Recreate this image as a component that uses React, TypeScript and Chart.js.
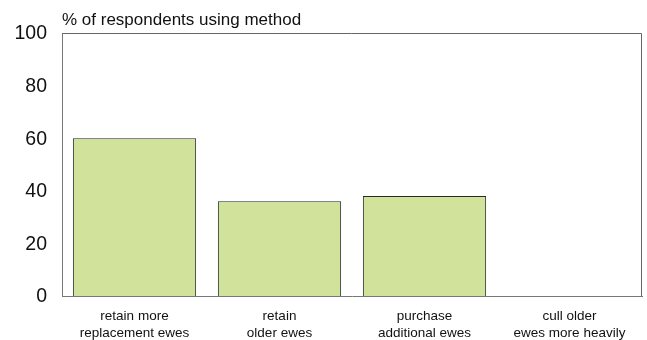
import React, { useEffect, useRef } from "react";
import { Chart, registerables } from "chart.js";

Chart.register(...registerables);

const categories: string[][] = [
  ["retain more", "replacement ewes"],
  ["retain", "older ewes"],
  ["purchase", "additional ewes"],
  ["cull older", "ewes more heavily"],
];
const values: number[] = [60, 36, 38, 0];
const yTicks: number[] = [0, 20, 40, 60, 80, 100];
const axisTitle = "% of respondents using method";

const FONT = "'Liberation Sans', Arial, Helvetica, sans-serif";

export default function App() {
  const ref = useRef<HTMLCanvasElement | null>(null);

  useEffect(() => {
    const canvas = ref.current;
    if (!canvas) return;
    const framePlugin = {
      id: "frame",
      afterDraw(chart: any) {
        const { ctx, chartArea } = chart;
        ctx.save();
        ctx.strokeStyle = "#666";
        ctx.lineWidth = 1;
        ctx.beginPath();
        ctx.moveTo(chartArea.left, chartArea.top + 0.5);
        ctx.lineTo(chartArea.right - 0.5, chartArea.top + 0.5);
        ctx.lineTo(chartArea.right - 0.5, chartArea.bottom);
        ctx.stroke();
        ctx.fillStyle = "#111";
        ctx.font = `17px ${FONT}`;
        ctx.textAlign = "left";
        ctx.textBaseline = "alphabetic";
        ctx.fillText(axisTitle, chartArea.left, chartArea.top - 8);
        ctx.restore();
      },
    };
    const chart = new Chart(canvas, {
      type: "bar",
      data: {
        labels: categories,
        datasets: [
          {
            data: values,
            backgroundColor: "#d1e39b",
            borderColor: "#2a2a2a",
            borderWidth: 1,
            categoryPercentage: 1,
            barPercentage: 0.85,
          },
        ],
      },
      options: {
        animation: false,
        responsive: false,
        maintainAspectRatio: false,
        layout: { padding: { top: 33, right: 5, left: 0, bottom: 0 } },
        plugins: {
          legend: { display: false },
          tooltip: { enabled: false },
          title: { display: false },
        },
        scales: {
          x: {
            grid: { display: false, drawTicks: false },
            border: { display: true, color: "#777", width: 1 },
            ticks: {
              color: "#111",
              font: { family: FONT, size: 13.5, lineHeight: 1.26 },
              padding: 12,
              maxRotation: 0,
              autoSkip: false,
            },
            afterFit(scale: any) {
              scale.height = 44;
            },
          },
          y: {
            min: 0,
            max: 100,
            afterBuildTicks(scale: any) {
              scale.ticks = yTicks.map((v) => ({ value: v }));
            },
            grid: { display: false, drawTicks: false },
            border: { display: true, color: "#777", width: 1 },
            ticks: {
              color: "#111",
              font: { family: FONT, size: 19.5 },
              padding: 15,
              labelOffset: 1,
            },
            afterFit(scale: any) {
              scale.width = 62;
            },
          },
        },
      },
      plugins: [framePlugin],
    } as any);
    return () => chart.destroy();
  }, []);

  return (
    <div style={{ position: "fixed", left: 0, top: 0, width: 647, height: 340, background: "#fff" }}>
      <canvas ref={ref} width={647} height={340} style={{ width: 647, height: 340 }} />
    </div>
  );
}
